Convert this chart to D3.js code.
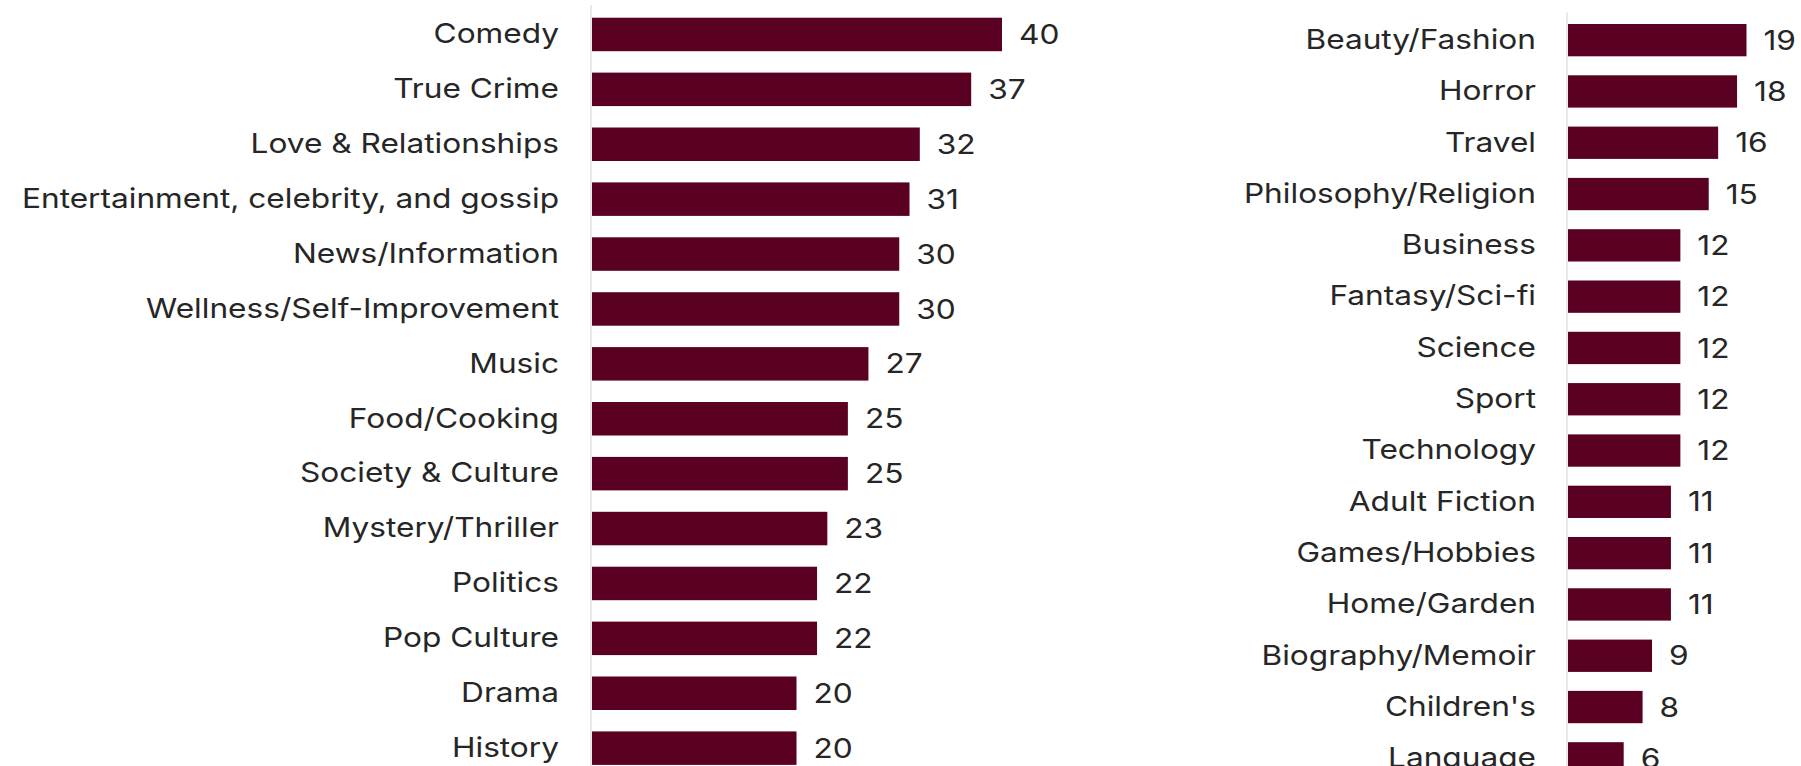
<!DOCTYPE html>
<html>
<head>
<meta charset="utf-8">
<script src="https://cdn.jsdelivr.net/npm/d3@7"></script>
<style>
  html, body { margin: 0; padding: 0; background: #fff; overflow: hidden; }
  svg { display: block; }
  text { font-family: Inter, "Noto Sans", sans-serif; fill: #262626; }
</style>
</head>
<body>
<svg width="1801" height="766"></svg>
<script>
// left panel
var leftCats = ["Comedy", "True Crime", "Love & Relationships", "Entertainment, celebrity, and gossip",
  "News/Information", "Wellness/Self-Improvement", "Music", "Food/Cooking", "Society & Culture",
  "Mystery/Thriller", "Politics", "Pop Culture", "Drama", "History"];
var leftVals = [40, 37, 32, 31, 30, 30, 27, 25, 25, 23, 22, 22, 20, 20];

// right panel
var rightCats = ["Beauty/Fashion", "Horror", "Travel", "Philosophy/Religion", "Business",
  "Fantasy/Sci-fi", "Science", "Sport", "Technology", "Adult Fiction", "Games/Hobbies",
  "Home/Garden", "Biography/Memoir", "Children's", "Language"];
var rightVals = [19, 18, 16, 15, 12, 12, 12, 12, 12, 11, 11, 11, 9, 8, 6];

var barColor = "#5a0022";
var stretch = 1.15;   // source text looks a bit wide
var fontSize = 27.5;
var svg = d3.select("svg");

function drawPanel(cats, vals, opt) {
  var data = cats.map(function(c, i) { return { name: c, value: vals[i] }; });

  var y = d3.scaleBand()
    .domain(cats)
    .range([opt.top, opt.top + cats.length * opt.step])
    .paddingInner(opt.pad)
    .paddingOuter(opt.pad / 2);

  var x = d3.scaleLinear()
    .domain([0, opt.max])
    .range([opt.left, opt.right]);

  var g = svg.append("g");

  // thin axis line
  g.append("line")
    .attr("x1", x(0)).attr("x2", x(0))
    .attr("y1", opt.top - 2).attr("y2", 800)
    .attr("stroke", "#e2e2e2")
    .attr("stroke-width", 1.5);

  g.selectAll(".bar")
    .data(data)
    .enter().append("rect")
    .attr("class", "bar")
    .attr("x", x(0) + 1)
    .attr("y", function(d) { return y(d.name); })
    .attr("width", function(d) { return x(d.value) - x(0) - 1; })
    .attr("height", y.bandwidth())
    .attr("fill", barColor);

  var axis = d3.axisLeft(y).tickSize(0).tickPadding(opt.labelGap);
  var ag = g.append("g")
    .attr("transform", "translate(" + x(0) + ",0)")
    .call(axis);
  ag.select(".domain").remove();
  ag.selectAll("text")
    .attr("x", -opt.labelGap / stretch)
    .attr("transform", "scale(" + stretch + ",1)")
    .attr("font-size", fontSize)
    .attr("font-family", "Inter, 'Noto Sans', sans-serif")
    .attr("fill", "#262626");

  g.selectAll(".val")
    .data(data)
    .enter().append("text")
    .attr("class", "val")
    .attr("transform", function(d) {
      return "translate(" + (x(d.value) + 17) + "," + (y(d.name) + y.bandwidth() / 2) + ") scale(" + stretch + ",1)";
    })
    .attr("dy", "0.35em")
    .attr("font-size", fontSize)
    .text(function(d) { return d.value; });
}

drawPanel(leftCats, leftVals, { top: 7, step: 54.9, pad: 0.39, max: 40, left: 591, right: 1002, labelGap: 32 });
drawPanel(rightCats, rightVals, { top: 14.5, step: 51.3, pad: 0.37, max: 19, left: 1567, right: 1746.5, labelGap: 31 });
</script>
</body>
</html>
